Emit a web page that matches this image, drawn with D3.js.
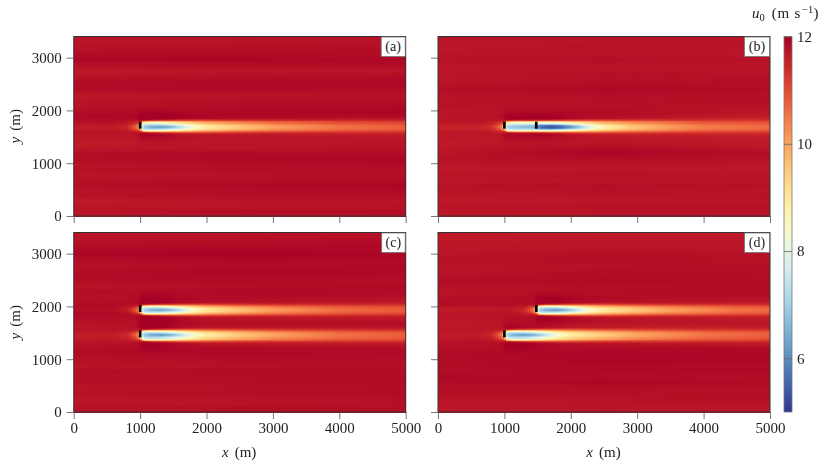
<!DOCTYPE html>
<html><head><meta charset="utf-8">
<script src="https://cdn.jsdelivr.net/npm/d3@7"></script>
<style>
html,body{margin:0;padding:0;background:#fff;width:829px;height:465px;overflow:hidden}
#wrap{position:relative;width:829px;height:465px}
canvas{position:absolute}
svg{position:absolute;left:0;top:0}
text{font-family:"Liberation Serif",serif;fill:#222}
</style></head><body><div id="wrap"></div>
<script>
// ---- axes and labels
const xTicks=[0,1000,2000,3000,4000,5000];
const yTicks=[0,1000,2000,3000];
const cbTicks=[6,8,10,12];
const panelLetters=["(a)","(b)","(c)","(d)"];
// ---- turbine positions (x, y in metres)
const turbinesA=[[1000,1720]];
const turbinesB=[[1000,1720],[1480,1720]];
const turbinesC=[[1000,1960],[1000,1480]];
const turbinesD=[[1480,1960],[1000,1480]];
// ---- background streaks (u0, m/s), rows from y=3400 down to y=0 in 100 m steps,
//      read at x=0, x=2500 and x=5000
const bgRowsY=[3400,3300,3200,3100,3000,2900,2800,2700,2600,2500,2400,2300,2200,2100,2000,1900,1800,1700,1600,1500,1400,1300,1200,1100,1000,900,800,700,600,500,400,300,200,100,0];
const bgStationsX=[0,2500,5000];
const bgA0=[11.72,11.72,11.76,11.84,11.92,11.8,11.66,11.7,11.8,11.84,11.8,11.66,11.72,11.76,11.8,11.88,11.76,11.7,11.7,11.66,11.62,11.7,11.8,11.8,11.72,11.76,11.72,11.76,11.8,11.72,11.76,11.62,11.7,11.72,11.7];
const bgA1=[11.76,11.72,11.8,11.84,11.92,11.84,11.72,11.76,11.84,11.88,11.84,11.72,11.8,11.84,11.88,11.92,11.88,11.8,11.8,11.72,11.7,11.72,11.88,11.88,11.8,11.8,11.76,11.8,11.88,11.8,11.8,11.7,11.72,11.8,11.72];
const bgA2=[11.72,11.76,11.8,11.8,11.88,11.84,11.72,11.8,11.88,11.88,11.8,11.76,11.8,11.88,11.92,11.92,11.84,11.76,11.76,11.72,11.72,11.76,11.84,11.92,11.84,11.76,11.8,11.84,11.92,11.84,11.8,11.72,11.76,11.8,11.76];
const bgB0=[11.72,11.68,11.68,11.72,11.76,11.72,11.68,11.72,11.68,11.76,11.8,11.72,11.76,11.72,11.68,11.72,11.68,11.62,11.66,11.66,11.62,11.68,11.72,11.76,11.68,11.66,11.72,11.68,11.76,11.72,11.68,11.66,11.72,11.68,11.66];
const bgB1=[11.72,11.72,11.76,11.72,11.8,11.76,11.72,11.8,11.76,11.84,11.88,11.8,11.76,11.8,11.84,11.84,11.76,11.68,11.68,11.68,11.72,11.88,11.92,11.8,11.72,11.68,11.76,11.72,11.8,11.76,11.72,11.68,11.76,11.72,11.72];
const bgB2=[11.68,11.72,11.72,11.68,11.76,11.72,11.72,11.76,11.8,11.8,11.84,11.76,11.8,11.72,11.68,11.66,11.68,11.66,11.66,11.66,11.62,11.72,11.8,11.76,11.68,11.68,11.72,11.72,11.76,11.72,11.76,11.72,11.76,11.72,11.72];
const bgC0=[11.68,11.72,11.8,11.88,11.92,11.8,11.76,11.8,11.84,11.8,11.72,11.8,11.76,11.8,11.88,11.92,11.8,11.72,11.72,11.68,11.68,11.76,11.84,11.8,11.76,11.72,11.8,11.76,11.8,11.72,11.76,11.72,11.68,11.76,11.72];
const bgC1=[11.72,11.76,11.84,11.92,11.95,11.88,11.84,11.92,11.88,11.84,11.8,11.88,11.84,11.88,11.92,11.88,11.8,11.8,11.8,11.8,11.76,11.8,11.88,11.88,11.8,11.76,11.84,11.8,11.8,11.76,11.8,11.76,11.72,11.8,11.76];
const bgC2=[11.76,11.8,11.88,11.88,11.92,11.84,11.88,11.88,11.84,11.8,11.88,11.84,11.8,11.8,11.84,11.84,11.8,11.88,11.88,11.8,11.76,11.8,11.84,11.84,11.8,11.8,11.8,11.84,11.84,11.8,11.84,11.8,11.76,11.8,11.8];
const bgD0=[11.64,11.64,11.68,11.68,11.72,11.76,11.72,11.72,11.76,11.8,11.76,11.72,11.76,11.8,11.72,11.72,11.68,11.64,11.68,11.72,11.72,11.76,11.8,11.84,11.8,11.84,11.8,11.88,11.84,11.76,11.8,11.72,11.68,11.68,11.64];
const bgD1=[11.64,11.68,11.72,11.72,11.8,11.8,11.76,11.8,11.84,11.84,11.8,11.8,11.84,11.84,11.84,11.8,11.8,11.72,11.72,11.76,11.8,11.84,11.88,11.92,11.92,11.88,11.88,11.84,11.92,11.8,11.8,11.76,11.72,11.72,11.72];
const bgD2=[11.62,11.68,11.68,11.72,11.76,11.76,11.8,11.8,11.8,11.84,11.8,11.84,11.8,11.8,11.8,11.76,11.76,11.72,11.76,11.76,11.8,11.8,11.88,11.88,11.88,11.84,11.88,11.8,11.84,11.8,11.76,11.8,11.72,11.68,11.68];
// ---- single-turbine wake: velocity deficit (m/s) against distance behind the rotor and offset
const wakeStations=[-400,-200,-100,-40,0,40,150,300,450,600,800,1000,1400,2000,3000,4000];
const wakeOffsets=[0,30,55,85,115,150,200,280,380];
const wakeO0=[0.1,0.3,0.8,1.4,2.6,4.8,5.4,5.7,5.4,4.6,3.5,2.9,2.4,1.8,1.25,1.0];
const wakeO40=[0.1,0.25,0.7,1.2,2.4,4.6,4.9,4.9,4.6,4.1,3.3,2.8,2.3,1.75,1.2,0.98];
const wakeO70=[0.05,0.15,0.5,0.9,1.8,4.0,4.3,4.2,3.8,3.3,2.8,2.4,2.0,1.5,1.05,0.88];
const wakeO100=[0,0.1,0.2,0.3,0.6,2.0,2.6,2.5,2.4,2.2,1.9,1.65,1.35,1.05,0.8,0.66];
const wakeO130=[0,0,0.05,0.05,-0.1,-0.1,0.1,0.3,0.45,0.55,0.62,0.65,0.55,0.45,0.38,0.34];
const wakeO170=[0,0,0,-0.05,-0.2,-0.25,-0.25,-0.2,-0.1,0,0.05,0.1,0.12,0.14,0.17,0.18];
const wakeO220=[0,0,0,-0.05,-0.15,-0.2,-0.2,-0.18,-0.12,-0.08,-0.04,0,0.02,0.04,0.05,0.06];
const wakeO300=[0,0,0,-0.02,-0.08,-0.1,-0.1,-0.08,-0.06,-0.03,0,0,0,0,0,0];
const wakeO400=[0,0,0,0,0,0,0,0,0,0,0,0,0,0,0,0];
// ---- two aligned turbines (panel b): the same kind of table, longer near wake
const tandemStations=[-400,-200,-100,-40,0,40,150,300,440,480,540,700,850,1000,1150,1300,1500,1900,2500,3000,4000];
const tandemO0=[0.1,0.3,0.8,1.4,2.6,4.6,4.9,5.1,5.2,5.6,6.2,6.5,6.3,5.7,4.9,3.8,3.0,2.2,1.6,1.25,1.0];
const tandemO40=[0.1,0.25,0.7,1.2,2.4,4.4,4.6,4.7,4.8,5.2,5.7,6.0,5.7,5.1,4.4,3.5,2.9,2.1,1.55,1.2,0.98];
const tandemO70=[0.05,0.15,0.5,0.9,1.8,3.9,4.2,4.2,4.2,4.4,4.6,4.6,4.3,3.9,3.4,2.9,2.4,1.85,1.35,1.05,0.88];
const tandemO100=[0,0.1,0.2,0.3,0.6,2.0,2.5,2.5,2.4,2.5,2.6,2.6,2.5,2.3,2.1,1.9,1.65,1.3,1.0,0.8,0.66];
const tandemO130=[0,0,0.05,0.05,-0.1,-0.1,0.05,0.1,0.1,0.1,0.15,0.3,0.4,0.5,0.6,0.65,0.65,0.55,0.45,0.38,0.34];
const tandemO170=[0,0,0,-0.05,-0.2,-0.25,-0.25,-0.25,-0.3,-0.3,-0.3,-0.25,-0.15,-0.05,0,0.05,0.1,0.12,0.15,0.17,0.18];
const tandemO220=[0,0,0,-0.05,-0.15,-0.2,-0.2,-0.2,-0.2,-0.2,-0.2,-0.16,-0.12,-0.08,-0.04,0,0,0.03,0.04,0.05,0.06];
const tandemO300=[0,0,0,-0.02,-0.08,-0.1,-0.1,-0.1,-0.1,-0.1,-0.1,-0.08,-0.06,-0.03,0,0,0,0,0,0,0];
const tandemO400=[0,0,0,0,0,0,0,0,0,0,0,0,0,0,0,0,0,0,0,0,0];

// ---- lookups
function table(stations,offsets,rows){
  const rs=rows.map(r=>d3.scaleLinear().domain(stations).range(r).clamp(true));
  return (d,o)=>d3.scaleLinear().domain(offsets).range(rs.map(s=>s(d))).clamp(true)(Math.abs(o));
}
const singleWake=table(wakeStations,wakeOffsets,[wakeO0,wakeO40,wakeO70,wakeO100,wakeO130,wakeO170,wakeO220,wakeO300,wakeO400]);
const tandemWake=table(tandemStations,wakeOffsets,[tandemO0,tandemO40,tandemO70,tandemO100,tandemO130,tandemO170,tandemO220,tandemO300,tandemO400]);
function bgField(cols){
  const rowsAsc=bgRowsY.slice().reverse();
  const ss=cols.map(c=>d3.scaleLinear().domain(rowsAsc).range(c.slice().reverse()));
  return (x,y)=>d3.scaleLinear().domain(bgStationsX).range(ss.map(s=>s(y)))(x);
}
const panels=[
 {letter:0,x0:73.7,y0:36.5,bg:bgField([bgA0,bgA1,bgA2]),turbines:turbinesA,wakes:[[turbinesA[0],singleWake]],boxW:24.5},
 {letter:1,x0:438,y0:36.5,bg:bgField([bgB0,bgB1,bgB2]),turbines:turbinesB,wakes:[[turbinesB[0],tandemWake]],boxW:25.5},
 {letter:2,x0:73.7,y0:232.5,bg:bgField([bgC0,bgC1,bgC2]),turbines:turbinesC,wakes:[[turbinesC[0],singleWake],[turbinesC[1],singleWake]],boxW:24},
 {letter:3,x0:438,y0:232.5,bg:bgField([bgD0,bgD1,bgD2]),turbines:turbinesD,wakes:[[turbinesD[0],singleWake],[turbinesD[1],singleWake]],boxW:25.5}
];
const W=332,H=179.5;
const color=d3.scaleSequential(t=>d3.interpolateRdYlBu(1-t)).domain([5,12]).clamp(true);
const sx=d3.scaleLinear().domain([0,5000]).range([0,W]);
const sy=d3.scaleLinear().domain([0,3400]).range([H,0]);
const wrap=d3.select("#wrap");
const svg=wrap.append("svg").attr("width",829).attr("height",465);
const dx=30,dy=20;
const xCells=d3.range(0,5000,dx), yCells=d3.range(0,3400,dy);
const axisColor="#666", fs=15;

panels.forEach((p,i)=>{
  const cv=wrap.append("canvas").attr("width",Math.ceil(W)).attr("height",Math.ceil(H))
    .style("left",p.x0+"px").style("top",p.y0+"px").node();
  const ctx=cv.getContext("2d");
  xCells.forEach(x=>yCells.forEach(y=>{
    const cx=x+dx/2, cy=y+dy/2;
    let u=p.bg(cx,cy);
    p.wakes.forEach(([t,f])=>{u-=f(cx-t[0],cy-t[1]);});
    ctx.fillStyle=color(u);
    const x0=Math.round(sx(x)),x1=Math.round(sx(x+dx)),y0=Math.round(sy(y+dy)),y1=Math.round(sy(y));
    ctx.fillRect(x0,y0,x1-x0+1,y1-y0+1);
  }));
});
// svg above the canvases
svg.style("z-index",2);
panels.forEach((p,i)=>{
  const g=svg.append("g").attr("transform",`translate(${p.x0},${p.y0})`);
  g.selectAll("rect.turbine").data(p.turbines).join("rect").attr("class","turbine")
    .attr("x",d=>sx(d[0]-20)).attr("width",sx(40)-sx(0))
    .attr("y",d=>sy(d[1]+66)).attr("height",sy(0)-sy(132)).attr("fill","#000");
  const ax=d3.axisBottom(sx).tickValues(xTicks).tickSize(7).tickPadding(3.5)
    .tickFormat(i>=2?d3.format("d"):"");
  const ay=d3.axisLeft(sy).tickValues(yTicks).tickSize(7).tickPadding(5)
    .tickFormat(i%2==0?d3.format("d"):"");
  [[g.append("g").attr("transform",`translate(0,${H})`).call(ax)],[g.append("g").call(ay)]].forEach(([a])=>{
    a.select(".domain").remove();
    a.selectAll("line").attr("stroke",axisColor).attr("stroke-width",0.9);
    a.selectAll("text").attr("font-size",fs).attr("font-family","Liberation Serif").attr("fill","#222");
  });
  g.append("rect").attr("x",0).attr("y",0).attr("width",W).attr("height",H)
    .attr("fill","none").attr("stroke","#333").attr("stroke-width",1);
  g.append("rect").attr("x",W-p.boxW).attr("y",0.5).attr("width",p.boxW-0.5).attr("height",19.5)
    .attr("fill","#fff").attr("stroke","#777").attr("stroke-width",0.8);
  g.append("text").attr("x",W-p.boxW/2-0.3).attr("y",14.6).attr("text-anchor","middle")
    .attr("font-size",14).text(panelLetters[p.letter]);
  if(i>=2){
    const t=g.append("text").attr("x",W/2-0.5).attr("y",H+44.5).attr("text-anchor","middle").attr("font-size",fs);
    t.append("tspan").attr("font-style","italic").text("x");
    t.append("tspan").attr("dx",6).text("(m)");
  }
  if(i%2==0){
    const t=g.append("text").attr("transform",`translate(${-53.5},${H/2}) rotate(-90)`).attr("text-anchor","middle").attr("font-size",fs);
    t.append("tspan").attr("font-style","italic").text("y");
    t.append("tspan").attr("dx",6).text("(m)");
  }
});
// colourbar
const cbX=784,cbW=8,cbTop=36.5,cbBot=412;
const cy=d3.scaleLinear().domain([5,12]).range([cbBot,cbTop]);
const grad=svg.append("defs").append("linearGradient").attr("id","cbg").attr("x1",0).attr("x2",0).attr("y1",1).attr("y2",0);
grad.selectAll("stop").data(d3.range(5,12.01,0.25)).join("stop")
  .attr("offset",d=>(d-5)/7).attr("stop-color",d=>color(d));
svg.append("rect").attr("x",cbX).attr("y",cbTop).attr("width",cbW).attr("height",cbBot-cbTop)
  .attr("fill","url(#cbg)").attr("stroke","#777").attr("stroke-width",0.8);
const cbg=svg.append("g").attr("transform",`translate(${cbX+cbW},0)`);
cbg.call(d3.axisRight(cy).tickValues(cbTicks).tickSize(-cbW).tickPadding(5).tickFormat(d3.format("d")));
cbg.select(".domain").remove();
cbg.selectAll("line").attr("stroke","#666").attr("stroke-width",0.8);
cbg.selectAll("text").attr("font-size",fs).attr("font-family","Liberation Serif").attr("fill","#222");
const title=svg.append("text").attr("x",752).attr("y",18).attr("font-size",fs);
title.append("tspan").attr("font-style","italic").text("u");
title.append("tspan").attr("font-size",10.5).attr("dy",3).text("0");
title.append("tspan").attr("dy",-3).attr("dx",7).attr("letter-spacing",0.8).text("(m s");
title.append("tspan").attr("font-size",10.5).attr("dy",-5.5).attr("dx",1).text("−1");
title.append("tspan").attr("dy",5.5).text(")");
</script></body></html>
